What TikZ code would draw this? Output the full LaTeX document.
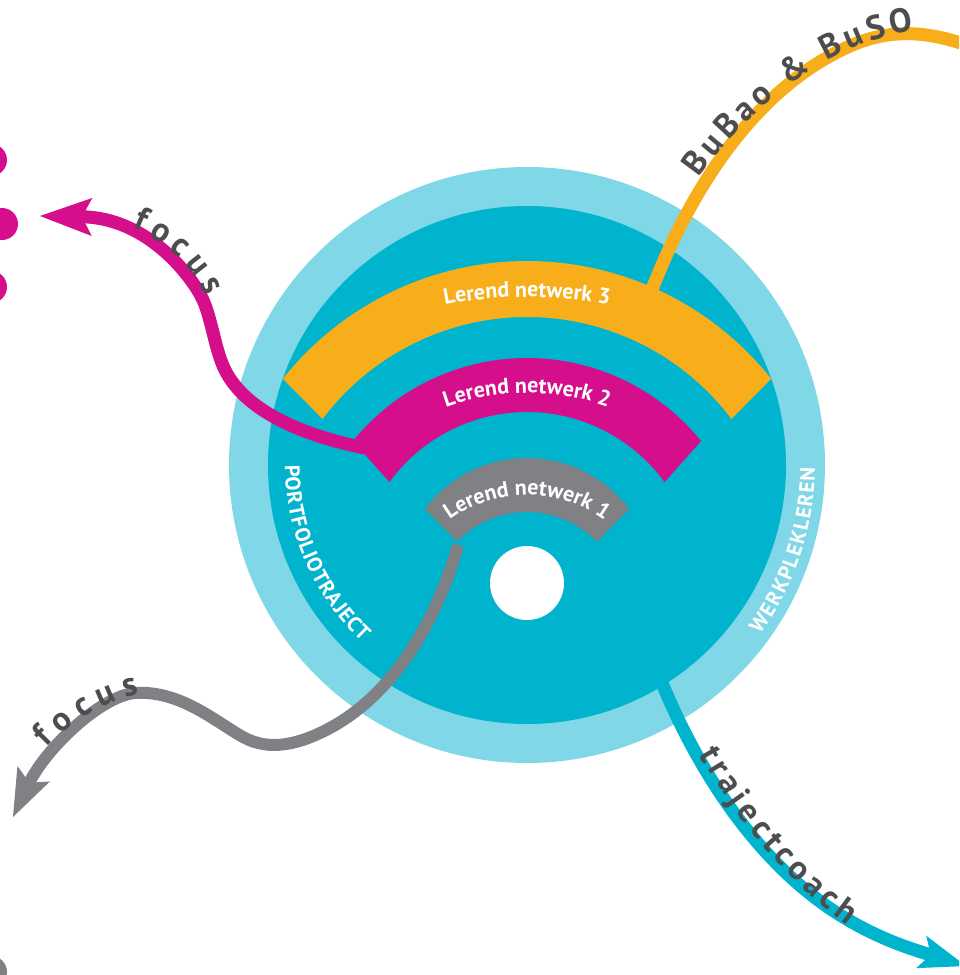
\documentclass[tikz,border=0pt]{standalone}
\usepackage{fontspec}
\setmainfont{PT Sans}
\usetikzlibrary{arrows.meta,calc,decorations.text}

\definecolor{ringlight}{RGB}{128,215,231}
\definecolor{ringdark}{RGB}{0,180,206}
\definecolor{lnorange}{RGB}{248,174,26}
\definecolor{lnmagenta}{RGB}{213,14,140}
\definecolor{lngray}{RGB}{128,129,133}
\definecolor{labelgray}{RGB}{77,77,79}

\newcommand\lblfont{\fontsize{34}{38}\selectfont\bfseries\color{labelgray}}
\newcommand\bandfont{\fontsize{22}{25}\selectfont\bfseries\color{white}}
\newcommand\ringfont{\fontsize{21}{24}\selectfont\bfseries\color{white}}

\tikzset{
    flow/.style={line width=13pt},
    flowlabel/.style={decorate, decoration={text along path, text align=fit to path, text={|\lblfont|#1}}},
    bandlabel/.style={decorate, decoration={text along path, text align=center, text={|\bandfont|#1}}},
    ringlabel/.style={decorate, decoration={text along path, text align=fit to path, text={|\ringfont|#1}}}
}

\begin{document}
\begin{tikzpicture}[x=1pt, y=1pt]
    % Keep the page at the size of the reference and cut what runs off
    \useasboundingbox (0,0) rectangle (959,-975);
    \clip (0,0) rectangle (959,-975);

    \coordinate (ringc) at (527,-465);
    \coordinate (hole) at (527,-583);

    % The two rings
    \fill[ringlight] (ringc) circle (298);
    \fill[ringdark] (ringc) circle (259);

    % Learning network bands: colour / outer centre y / outer r / inner centre y / inner r / outer angle / inner angle
    \foreach \col/\oy/\ro/\iy/\ri/\oa/\ia in {
        lnorange/573/312/573/256/38.5/37,
        lnmagenta/582/224/582/170/39/36,
        lngray/586/128/609/97/37/44} {
        \fill[\col] ($(527,-\oy)+(180-\oa:\ro)$) arc[start angle=180-\oa, end angle=\oa, radius=\ro]
            -- ($(527,-\iy)+(\ia:\ri)$) arc[start angle=\ia, end angle=180-\ia, radius=\ri] -- cycle;
    }

    \fill[white] (hole) circle (37);

    % Where the flows leave the bands
    \coordinate (ln3-top) at (648,-300);
    \coordinate (ln2-end) at (365,-448);
    \coordinate (ln1-foot) at (458,-545);
    \coordinate (coach-start) at (662,-683);

    % Free ends of the flows
    \coordinate (focus-top) at (40,-216);
    \coordinate (focus-bottom) at (13,-817);
    \coordinate (buso-end) at (975,-48);
    \coordinate (coach-tip) at (966,-966);

    % Dots on the left edge
    \foreach \dx/\dy in {-9/160, 2/224, -9/287} {
        \fill[lnmagenta] (\dx,-\dy) circle (16);
    }
    \fill[lngray] (-9,-972) circle (16);

    % Flows
    \draw[flow, lnmagenta, -{Stealth[length=52pt, width=38pt, inset=10pt, line width=0pt]}]
        (ln2-end) .. controls (300,-435) and (245,-410) .. (225,-370)
        .. controls (215,-350) and (212,-320) .. (203,-300)
        .. controls (194,-280) and (150,-218) .. (focus-top);

    \draw[flow, lngray, line width=12pt, -{Stealth[length=48pt, width=36pt, inset=10pt, line width=0pt]}]
        (ln1-foot) .. controls (440,-610) and (400,-690) .. (330,-728)
        .. controls (300,-744) and (270,-752) .. (243,-737)
        .. controls (216,-722) and (180,-690) .. (135,-693)
        .. controls (100,-696) and (45,-750) .. (focus-bottom);

    \draw[flow, lnorange]
        (ln3-top) .. controls (685,-200) and (750,-90) .. (850,-46)
        .. controls (895,-26) and (935,-33) .. (buso-end);

    \draw[flow, ringdark, -{Stealth[length=47pt, width=34pt, inset=10pt, line width=0pt]}]
        (coach-start) .. controls (700,-775) and (760,-865) .. (840,-915)
        .. controls (880,-940) and (915,-950) .. (coach-tip);

    % Labels along the flows
    \path[flowlabel={focus}] (132,-228) .. controls (162,-240) and (189,-260) .. (206,-296);
    \path[flowlabel={focus}] (47,-748) .. controls (73,-720) and (103,-702) .. (139,-694);
    \path[flowlabel={BuBao {\&} BuSO}] (699,-178) .. controls (748,-109) and (828,-42) .. (914,-31);
    \path[flowlabel={trajectcoach}] (699,-754) .. controls (732,-813) and (787,-883) .. (847,-925);

    % Labels on the bands
    \path[bandlabel={Lerend netwerk 3}] ($(527,-735)+(115:438)$) arc[start angle=115, end angle=65, radius=438];
    \path[bandlabel={Lerend netwerk 2}] ($(527,-633)+(120:240)$) arc[start angle=120, end angle=60, radius=240];
    \path[bandlabel={Lerend netwerk 1}] ($(527,-627)+(135:132)$) arc[start angle=135, end angle=45, radius=132];

    % Labels on the rings
    \path[ringlabel={PORTFOLIOTRAJECT}] ($(ringc)+(180:242)$) arc[start angle=180, end angle=227, radius=242];
    \path[ringlabel={WERKPLEKLEREN}] ($(ringc)+(-36:288)$) arc[start angle=-36, end angle=-0.5, radius=288];
\end{tikzpicture}
\end{document}
